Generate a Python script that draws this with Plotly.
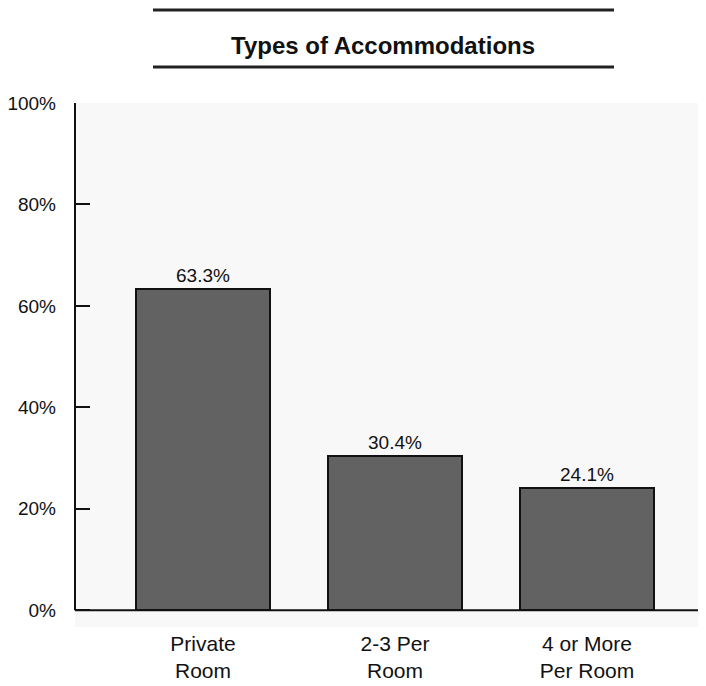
import plotly.graph_objects as go

categories = ["Private<br>Room", "2-3 Per<br>Room", "4 or More<br>Per Room"]
values = [63.3, 30.4, 24.1]
value_labels = ["63.3%", "30.4%", "24.1%"]
tick_vals = [0, 20, 40, 60, 80, 100]
tick_text = ["0%", "20%", "40%", "60%", "80%", "100%"]
title_text = "Types of Accommodations"

FONT = "Liberation Sans, Arial"

# page renders with an 8px body offset; compensate
OFF = 8
W, H = 706, 686
L = 75 - OFF
T = 103 - OFF
right_px = 706 - OFF
plot_w = right_px - L
plot_h = 524.5
R = W - right_px
B = H - T - plot_h

fig = go.Figure()
fig.add_trace(go.Bar(
    x=[0, 1, 2], y=values, width=0.70,
    marker=dict(color="#626262", line=dict(color="#111111", width=2)),
    text=value_labels, textposition="outside", cliponaxis=False,
    textfont=dict(family=FONT, size=19, color="#111111"),
))

fig.update_layout(
    width=W, height=H,
    margin=dict(l=L, r=R, t=T, b=B, pad=0, autoexpand=False),
    paper_bgcolor="white", plot_bgcolor="#f8f8f8",
    showlegend=False, bargap=0,
    font=dict(family=FONT, color="#111111"),
    xaxis=dict(range=[-0.667, 2.62], tickvals=[0, 1, 2], ticktext=categories,
               showgrid=False, zeroline=False, showline=False, ticks="",
               ticklabelstandoff=2, automargin=False,
               tickfont=dict(family=FONT, size=21, color="#111111")),
    yaxis=dict(range=[-3.3, 100], tickvals=tick_vals, ticktext=tick_text,
               showgrid=False, zeroline=False, showline=False,
               ticks="inside", ticklen=15, tickwidth=2, tickcolor="#111111",
               ticklabelstandoff=18, automargin=False,
               tickfont=dict(family=FONT, size=19, color="#111111")),
)

# axis lines
fig.add_shape(type="line", xref="paper", yref="y", x0=0, x1=0, y0=0, y1=100,
              line=dict(color="#111111", width=2))
fig.add_shape(type="line", xref="paper", yref="y", x0=0, x1=1, y0=0, y1=0,
              line=dict(color="#111111", width=2))

def px_to_paper_y(py):
    return 1 + (T - (py - OFF)) / plot_h

def px_to_paper_x(px):
    return ((px - OFF) - L) / plot_w

for py in (10, 67):
    fig.add_shape(type="line", xref="paper", yref="paper",
                  x0=px_to_paper_x(153), x1=px_to_paper_x(614),
                  y0=px_to_paper_y(py), y1=px_to_paper_y(py),
                  line=dict(color="#222222", width=3))

fig.add_annotation(text="<b>" + title_text + "</b>", xref="paper", yref="paper",
                   x=px_to_paper_x(383), y=px_to_paper_y(45), showarrow=False,
                   xanchor="center", yanchor="middle",
                   font=dict(family=FONT, size=24, color="#111111"))

fig.write_html("out.html")
